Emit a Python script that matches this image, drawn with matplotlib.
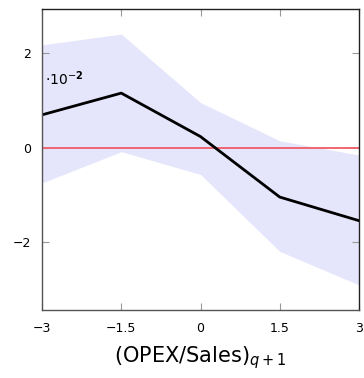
import numpy as np
import matplotlib.pyplot as plt

plt.rcParams['mathtext.fontset'] = 'dejavusans'

# horizon values, coefficient estimates and confidence band (units of 1e-2)
x = [-3, -1.5, 0, 1.5, 3]
coef = [0.70, 1.16, 0.24, -1.04, -1.54]
upper = [2.18, 2.41, 0.96, 0.15, -0.15]
lower = [-0.74, -0.08, -0.56, -2.19, -2.90]

fig = plt.figure(figsize=(3.64, 3.78), dpi=100)
ax = fig.add_axes([42 / 364, 68 / 378, 317 / 364, 301 / 378])

ax.fill_between(x, lower, upper, color='#e5e5fb', lw=0)
ax.axhline(0, color='#ef6670', lw=1.4)
ax.plot(x, coef, color='black', lw=2)

ax.set_xlim(-3, 3)
ax.set_ylim(-3.43, 2.94)
ax.set_xticks(x)
ax.set_xticklabels(['\u22123', '\u22121.5', '0', '1.5', '3'])
ax.set_yticks([-2, 0, 2])
ax.set_yticklabels(['\u22122', '0', '2'])
ax.tick_params(direction='in', length=5, width=0.8, color='#999999',
               labelsize=9, top=True, right=True)
ax.tick_params(axis='x', pad=9)
ax.tick_params(axis='y', pad=8)
for s in ax.spines.values():
    s.set_color('#222222')
    s.set_linewidth(1)
ax.spines['left'].set_color('#555555')
ax.spines['bottom'].set_color('#555555')

ax.text(0.008, 0.77, r'$\cdot10^{-\mathbf{2}}$', transform=ax.transAxes,
        fontsize=10, va='center', ha='left')
ax.set_xlabel(r'(OPEX/Sales)$_{q+1}$', fontsize=15, labelpad=6)

fig.savefig('out.png', dpi=100)
